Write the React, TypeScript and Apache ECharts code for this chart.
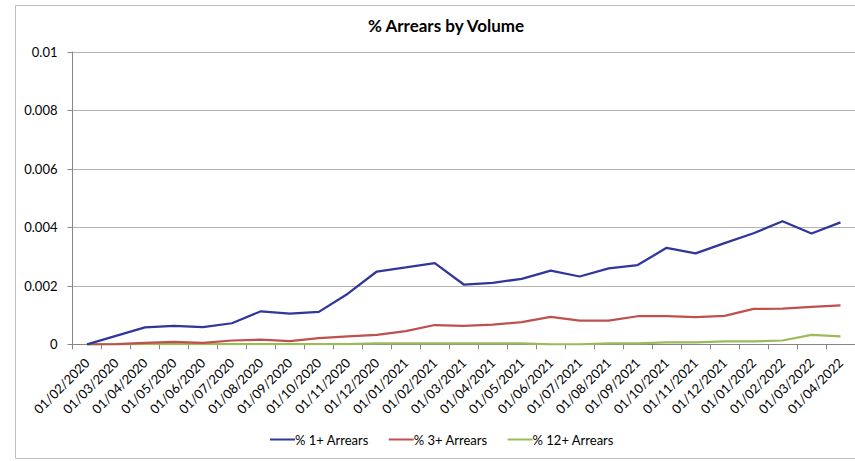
import React, { useEffect, useRef } from "react";
import * as echarts from "echarts";

const categories = [
  "01/02/2020", "01/03/2020", "01/04/2020", "01/05/2020", "01/06/2020", "01/07/2020",
  "01/08/2020", "01/09/2020", "01/10/2020", "01/11/2020", "01/12/2020", "01/01/2021",
  "01/02/2021", "01/03/2021", "01/04/2021", "01/05/2021", "01/06/2021", "01/07/2021",
  "01/08/2021", "01/09/2021", "01/10/2021", "01/11/2021", "01/12/2021", "01/01/2022",
  "01/02/2022", "01/03/2022", "01/04/2022",
];

const arrears1 = [
  0, 0.00029, 0.00058, 0.00063, 0.00059, 0.00072, 0.00113, 0.00105, 0.00111, 0.00173,
  0.00249, 0.00263, 0.00278, 0.002045, 0.0021, 0.00224, 0.00252, 0.00232, 0.0026, 0.00271,
  0.0033, 0.00311, 0.00346, 0.0038, 0.00421, 0.00379, 0.00417,
];

const arrears3 = [
  0, 0.00001, 0.00005, 0.00008, 0.00005, 0.00013, 0.00016, 0.00011, 0.00021, 0.00027,
  0.00032, 0.00045, 0.00066, 0.00063, 0.00067, 0.00076, 0.00094, 0.00081, 0.00081, 0.00096,
  0.00096, 0.00093, 0.00097, 0.00121, 0.00122, 0.00128, 0.00133,
];

const arrears12 = [
  0, 0, 0.00001, 0.00001, 0.00001, 0.00001, 0.00001, 0.00001, 0.00001, 0.00001,
  0.00003, 0.00003, 0.00003, 0.00003, 0.00003, 0.00003, 0, 0, 0.00003, 0.00003,
  0.00007, 0.00007, 0.0001, 0.0001, 0.00013, 0.00032, 0.00027,
];

const seriesNames = ["% 1+ Arrears", "% 3+ Arrears", "% 12+ Arrears"];
const seriesColors = ["#30369b", "#c0504d", "#9bbb59"];

export default function App() {
  const ref = useRef<HTMLDivElement>(null);
  useEffect(() => {
    if (!ref.current) return;
    const chart = echarts.init(ref.current, null, { renderer: "svg" });
    const font = "Lato, 'Open Sans', sans-serif";
    const dataSets = [arrears1, arrears3, arrears12];
    chart.setOption({
      animation: false,
      textStyle: { fontFamily: font },
      title: {
        text: "% Arrears by Volume",
        left: 441,
        top: 12,
        textAlign: "center",
        textStyle: { fontSize: 17, fontWeight: "bold", color: "#000", fontFamily: font },
      },
      graphic: [
        {
          type: "rect",
          shape: { x: 15.5, y: 5.5, width: 900, height: 453 },
          style: { fill: "none", stroke: "#bfbfbf", lineWidth: 1 },
          silent: true,
        },
      ],
      legend: {
        bottom: 10,
        left: 265,
        itemWidth: 25,
        itemHeight: 2,
        itemGap: 20,
        icon: "rect",
        textStyle: { fontSize: 13, color: "#000", fontFamily: font, padding: [0, 0, 0, -5] },
        data: seriesNames,
      },
      grid: { left: 72.5, top: 52, width: 785, bottom: 116.7, containLabel: false },
      xAxis: {
        type: "category",
        data: categories,
        boundaryGap: true,
        axisLine: { lineStyle: { color: "#868686", width: 1 } },
        axisTick: { show: true, length: 5, lineStyle: { color: "#868686" } },
        axisLabel: {
          rotate: 45,
          interval: 0,
          fontSize: 13,
          color: "#000",
          margin: 16,
          fontFamily: font,
        },
      },
      yAxis: {
        type: "value",
        min: 0,
        max: 0.01,
        interval: 0.002,
        axisLine: { show: true, lineStyle: { color: "#868686", width: 1 } },
        axisTick: { show: true, length: 5, lineStyle: { color: "#868686" } },
        splitLine: { lineStyle: { color: "#b3b3b3", width: 1 } },
        axisLabel: {
          fontSize: 13,
          color: "#000",
          margin: 15,
          fontFamily: font,
          formatter: (v: number) => (v === 0 ? "0" : String(parseFloat(v.toFixed(4)))),
        },
      },
      series: seriesNames.map((name, i) => ({
        name,
        type: "line",
        data: dataSets[i],
        symbol: "none",
        showSymbol: false,
        color: seriesColors[i],
        lineStyle: { color: seriesColors[i], width: 2.25 },
        z: 3 - i,
      })),
    });
    return () => chart.dispose();
  }, []);
  return (
    <div
      ref={ref}
      style={{ position: "absolute", left: 0, top: 0, width: 855, height: 461, background: "#fff" }}
    />
  );
}
